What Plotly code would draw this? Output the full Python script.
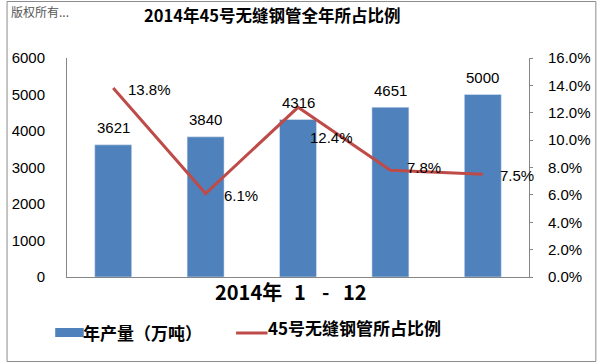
import plotly.graph_objects as go

# ---- data ----
categories = ["第1组", "第2组", "第3组", "第4组", "第5组"]
production = [3621, 3840, 4316, 4651, 5000]          # 年产量（万吨）
share = [0.138, 0.061, 0.124, 0.078, 0.075]          # 45号无缝钢管所占比例
production_labels = ["3621", "3840", "4316", "4651", "5000"]
share_labels = ["13.8%", "6.1%", "12.4%", "7.8%", "7.5%"]

title_text = "2014年45号无缝钢管全年所占比例"
xaxis_parts = ["2014年", "1", "-", "12"]
legend_names = ["年产量（万吨）", "45号无缝钢管所占比例"]
watermark = "版权所有..."

# ---- style ----
BAR = "#4F81BD"
LINE = "#BE4B48"
AXIS = "#868686"
W, H = 603, 363
L, R, T, B = 63, 533, 58, 277
PW, PH = R - L, B - T

def px(x):
    return (x - L) / PW

def py(y):
    return (B - y) / PH

# offsets (pixels) of the percentage labels relative to their points
share_label_shift = [(13, -1), (16, -2), (10, -30), (15, 3), (15, -1)]
# pixel centres of the pieces of the axis caption
xaxis_part_x = [248, 300, 325.5, 356]

fig = go.Figure()
fig.add_trace(go.Bar(x=categories, y=production, marker_color=BAR,
                     name=legend_names[0], showlegend=False))
fig.add_trace(go.Scatter(x=categories, y=share, yaxis="y2", mode="lines",
                         line=dict(color=LINE, width=3),
                         name=legend_names[1], showlegend=False))

ann = []
num_font = dict(family="Liberation Sans, Arial", size=15, color="#000000")
for c, v, t in zip(categories, production, production_labels):
    ann.append(dict(x=c, y=v, xref="x", yref="y", text=t, showarrow=False,
                    xanchor="center", yanchor="middle", yshift=17, font=num_font))
for c, v, t, (dx, dy) in zip(categories, share, share_labels, share_label_shift):
    ann.append(dict(x=c, y=v, xref="x", yref="y2", text=t, showarrow=False,
                    xanchor="left", yanchor="middle", xshift=dx, yshift=dy,
                    font=num_font))

cjk_bold = "Noto Sans CJK SC"
ann.append(dict(x=px(139), y=py(15), xref="paper", yref="paper",
                text="<b>" + title_text + "</b>", showarrow=False,
                xanchor="left", yanchor="middle",
                font=dict(family=cjk_bold, size=16.5, color="#000000")))
ann.append(dict(x=px(4), y=py(12), xref="paper", yref="paper",
                text=watermark, showarrow=False, xanchor="left", yanchor="middle",
                font=dict(family="Noto Sans CJK SC", size=12, color="#555555")))
for part, cx in zip(xaxis_parts, xaxis_part_x):
    ann.append(dict(x=px(cx), y=py(291), xref="paper", yref="paper",
                    text="<b>" + part + "</b>", showarrow=False,
                    xanchor="center", yanchor="middle",
                    font=dict(family=cjk_bold, size=20, color="#000000")))
ann.append(dict(x=px(77), y=py(332), xref="paper", yref="paper",
                text="<b>" + legend_names[0] + "</b>", showarrow=False,
                xanchor="left", yanchor="middle",
                font=dict(family=cjk_bold, size=17, color="#000000")))
ann.append(dict(x=px(265), y=py(327), xref="paper", yref="paper",
                text="<b>" + legend_names[1] + "</b>", showarrow=False,
                xanchor="left", yanchor="middle",
                font=dict(family=cjk_bold, size=17, color="#000000")))

shapes = [
    # outer border
    dict(type="rect", xref="paper", yref="paper",
         x0=px(2), x1=px(601), y0=py(1.5), y1=py(361.5),
         line=dict(color="#8C8C8C", width=1), fillcolor="rgba(0,0,0,0)", layer="below"),
    # legend symbols
    dict(type="rect", xref="paper", yref="paper",
         x0=px(51), x1=px(80), y0=py(328), y1=py(337),
         line=dict(width=0), fillcolor=BAR),
    dict(type="line", xref="paper", yref="paper",
         x0=px(235), x1=px(267), y0=py(333), y1=py(333),
         line=dict(color=LINE, width=3)),
]

tick_font = dict(family="Liberation Sans, Arial", size=15, color="#000000")
fig.update_layout(
    width=W, height=H,
    margin=dict(l=L, r=W - R, t=T, b=H - B, pad=0),
    paper_bgcolor="#FFFFFF", plot_bgcolor="#FFFFFF",
    bargap=0.6,
    showlegend=False,
    xaxis=dict(type="category", categoryorder="array", categoryarray=categories,
               range=[-0.5, len(categories) - 0.5],
               showticklabels=False, ticks="", showgrid=False,
               zeroline=False, showline=True, linecolor=AXIS, linewidth=1),
    yaxis=dict(range=[0, 6000], dtick=1000, showgrid=False, zeroline=False,
               showline=True, linecolor=AXIS, linewidth=1, ticks="",
               tickfont=tick_font, ticklabelstandoff=18),
    yaxis2=dict(range=[0, 0.16], dtick=0.02, tickformat=".1%", overlaying="y",
                side="right", showgrid=False, zeroline=False, showline=True,
                linecolor=AXIS, linewidth=1, ticks="outside", ticklen=3,
                tickcolor=AXIS, tickfont=tick_font, ticklabelstandoff=12),
    annotations=ann,
    shapes=shapes,
)

fig.write_html("out.html",
               config={"displayModeBar": False},
               post_script="document.body.style.margin='0px';"
                           "document.body.style.overflow='hidden';")
